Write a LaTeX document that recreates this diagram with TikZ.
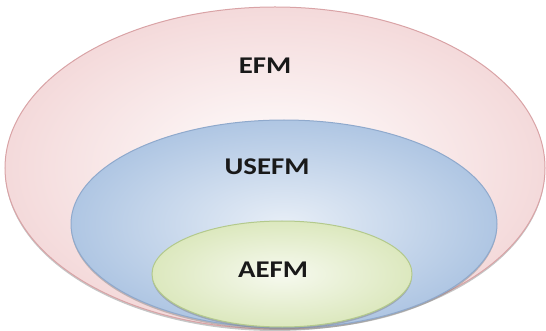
\documentclass[tikz,border=0pt]{standalone}
\usepackage{fontspec}
\setmainfont{Carlito}
\usepackage{tikz}
\usetikzlibrary{shapes.geometric,shadows}

\definecolor{efmline}{HTML}{D9A3A6}
\definecolor{efmfill}{HTML}{F2D3D4}
\definecolor{usefmline}{HTML}{8FA9CC}
\definecolor{usefmfill}{HTML}{AFC6E3}
\definecolor{aefmline}{HTML}{B3C98C}
\definecolor{aefmfill}{HTML}{DCE8BE}

\begin{document}
\begin{tikzpicture}[x=1pt,y=-1pt,
    set/.style={ellipse,draw,line width=1pt,inner sep=0pt,
      drop shadow={shadow xshift=0pt,shadow yshift=-2pt,opacity=0.45}},
    lbl/.style={font=\fontsize{24}{27}\selectfont\bfseries,text=black!90,xscale=1.2,transform shape}]
  \useasboundingbox (0,0) rectangle (546,331);
  \node[set,draw=efmline,inner color=white,outer color=efmfill!85,
    minimum width=540pt,minimum height=322pt] (efm) at (275,168) {};
  \node[set,draw=usefmline,inner color=usefmfill!30,outer color=usefmfill,
    minimum width=426pt,minimum height=208pt] (usefm) at (284,224) {};
  \node[set,draw=aefmline,inner color=aefmfill!25,outer color=aefmfill,
    minimum width=260pt,minimum height=106pt] (aefm) at (282,274) {};
  \node[lbl] (efm-l) at (265,66) {EFM};
  \node[lbl] (usefm-l) at (267,167) {USEFM};
  \node[lbl] (aefm-l) at (273,270) {AEFM};
\end{tikzpicture}
\end{document}
